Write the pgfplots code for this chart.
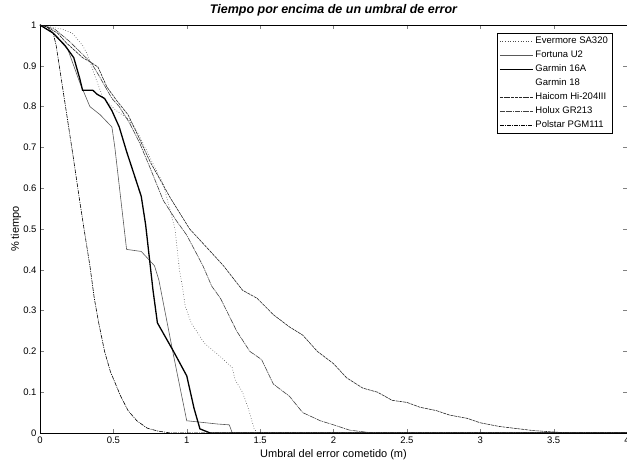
\documentclass[border=0pt]{standalone}
\usepackage{fontspec}
\setmainfont{Liberation Sans}
\usepackage{pgfplots}
\pgfplotsset{compat=1.18}
\usetikzlibrary{calc}

\begin{document}
\begin{tikzpicture}
\begin{axis}[
  scale only axis, width=587pt, height=408pt,
  xmin=0, xmax=4, ymin=0, ymax=1,
  xtick={0,0.5,...,4}, ytick={0,0.1,...,1},
  /pgf/number format/assume math mode=true,
  tick label style={font=\fontsize{9.5}{11}\selectfont},
  axis line style={line width=0.6pt},
  major tick length=4pt,
  title={\bfseries\itshape Tiempo por encima de un umbral de error},
  every axis title/.style={font=\fontsize{12.5}{14}\selectfont, at={(axis description cs:0.5,1.035)}, anchor=center},
  xlabel={Umbral del error cometido (m)},
  xlabel style={font=\fontsize{11}{13}\selectfont, at={(axis description cs:0.5,-0.054)}, anchor=center},
  ylabel={\% tiempo},
  ylabel style={font=\fontsize{11}{13}\selectfont, at={(axis description cs:-0.041,0.5)}, anchor=center},
  legend style={at={(0.9745,0.98)}, anchor=north east, draw=black,
    font=\fontsize{9.5}{11}\selectfont, inner xsep=2pt, inner ysep=1pt,
    nodes={text height=7pt, text depth=2pt, inner ysep=2.5pt}},
  legend cell align=left,
  legend image code/.code={\draw[#1] (0pt,0pt) -- (33pt,0pt);},
]
% Evermore SA320
\addplot[black!70, line width=0.6pt, dotted] coordinates {
 (0,1) (0.15,0.99) (0.22,0.98) (0.29,0.95) (0.32,0.93) (0.37,0.88) (0.43,0.82)
 (0.52,0.79) (0.60,0.77) (0.66,0.74) (0.73,0.69) (0.77,0.66) (0.84,0.61)
 (0.92,0.50) (0.95,0.40) (0.97,0.36) (0.99,0.31) (1.03,0.27) (1.12,0.22)
 (1.22,0.19) (1.31,0.16) (1.33,0.13) (1.38,0.10) (1.42,0.06) (1.46,0.01)
 (1.48,0) (4,0)};
\addlegendentry{Evermore SA320}
% Fortuna U2
\addplot[black!65, line width=0.6pt] coordinates {
 (0,1) (0.09,0.98) (0.19,0.94) (0.27,0.86) (0.34,0.80) (0.41,0.78) (0.49,0.75)
 (0.51,0.70) (0.59,0.45) (0.69,0.445) (0.78,0.41) (0.81,0.375) (0.91,0.19)
 (1.0,0.03) (1.08,0.027) (1.21,0.022) (1.29,0.02) (1.31,0) (4,0)};
\addlegendentry{Fortuna U2}
% Garmin 16A
\addplot[black, line width=1.3pt] coordinates {
 (0,1) (0.09,0.98) (0.17,0.95) (0.23,0.92) (0.27,0.87) (0.29,0.84) (0.36,0.84)
 (0.39,0.83) (0.44,0.82) (0.49,0.79) (0.54,0.75) (0.59,0.69) (0.69,0.58)
 (0.72,0.51) (0.77,0.35) (0.80,0.27) (0.91,0.20) (1.0,0.14) (1.05,0.06)
 (1.09,0.01) (1.16,0) (4,0)};
\addlegendentry{Garmin 16A}
% Garmin 18 (not visible in the chart)
\addlegendimage{white}
\addlegendentry{Garmin 18}
% Haicom Hi-204III
\addplot[black!85, line width=0.6pt, dash pattern=on 3pt off 0.8pt] coordinates {
 (0,1) (0.05,0.995) (0.12,0.98) (0.18,0.956) (0.29,0.92) (0.34,0.91) (0.395,0.897)
 (0.456,0.848) (0.52,0.816) (0.60,0.78) (0.66,0.735) (0.75,0.665) (0.89,0.575)
 (1.02,0.50) (1.11,0.465) (1.25,0.41) (1.38,0.35) (1.48,0.33) (1.59,0.29)
 (1.70,0.26) (1.79,0.24) (1.89,0.20) (2.0,0.17) (2.09,0.135) (2.2,0.11)
 (2.3,0.10) (2.4,0.08) (2.5,0.075) (2.59,0.063) (2.7,0.055) (2.79,0.044)
 (2.91,0.036) (3.0,0.025) (3.13,0.016) (3.36,0.006) (3.52,0.002) (3.6,0) (4,0)};
\addlegendentry{Haicom Hi-204III}
% Holux GR213
\addplot[black!75, line width=0.6pt, dash pattern=on 5pt off 0.8pt on 1pt off 0.8pt] coordinates {
 (0,1) (0.1,0.99) (0.2,0.96) (0.35,0.907) (0.40,0.877) (0.49,0.82) (0.54,0.80)
 (0.61,0.76) (0.68,0.71) (0.75,0.65) (0.84,0.57) (0.93,0.52) (1.0,0.485)
 (1.11,0.41) (1.17,0.36) (1.23,0.33) (1.34,0.25) (1.43,0.20) (1.51,0.18)
 (1.59,0.12) (1.70,0.09) (1.79,0.05) (1.91,0.03) (2.0,0.02) (2.11,0.007)
 (2.27,0) (4,0)};
\addlegendentry{Holux GR213}
% Polstar PGM111
\addplot[black, line width=0.6pt, dash pattern=on 4pt off 1pt on 1pt off 1pt] coordinates {
 (0,1) (0.05,0.995) (0.09,0.98) (0.11,0.95) (0.225,0.68) (0.27,0.57) (0.30,0.50)
 (0.34,0.41) (0.37,0.33) (0.40,0.27) (0.44,0.20) (0.48,0.15) (0.55,0.09)
 (0.60,0.055) (0.66,0.03) (0.73,0.012) (0.80,0.005) (0.89,0) (4,0)};
\addlegendentry{Polstar PGM111}
\end{axis}
\pgfresetboundingbox
\path[use as bounding box] ($(current axis.south west)+(-40pt,-30pt)$) rectangle ($(current axis.north east)+(0pt,25pt)$);
\end{tikzpicture}
\end{document}
